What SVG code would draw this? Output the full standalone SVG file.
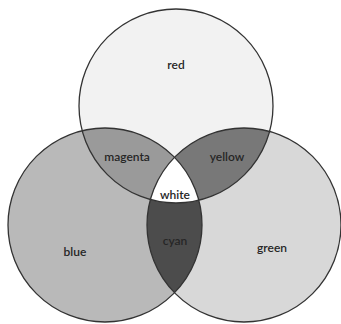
<svg xmlns="http://www.w3.org/2000/svg" width="341" height="324" viewBox="0 0 341 324">
  <style>
    .lbl { font-family: "Lato", "Open Sans", "DejaVu Sans", sans-serif; font-size: 12px; font-weight: 600; fill: #262626; text-anchor: middle; }
    .ring { fill: none; stroke: #333333; stroke-width: 1.3; }
  </style>
  <defs>
    <clipPath id="clipRed"><circle cx="176" cy="106" r="97"/></clipPath>
    <clipPath id="clipBlue"><circle cx="105" cy="225" r="97"/></clipPath>
    <clipPath id="clipGreen"><circle cx="244" cy="225" r="97"/></clipPath>
  </defs>
  <rect width="341" height="324" fill="#ffffff"/>
  <g id="blue">
    <circle cx="105" cy="225" r="97" fill="#b9b9b9"/>
  </g>
  <g id="green">
    <circle cx="244" cy="225" r="97" fill="#d8d8d8"/>
  </g>
  <g id="red">
    <circle cx="176" cy="106" r="97" fill="#f2f2f2"/>
  </g>
  <g id="magenta" clip-path="url(#clipBlue)">
    <circle cx="176" cy="106" r="97" fill="#9a9a9a"/>
  </g>
  <g id="yellow" clip-path="url(#clipGreen)">
    <circle cx="176" cy="106" r="97" fill="#787878"/>
  </g>
  <g id="cyan" clip-path="url(#clipGreen)">
    <circle cx="105" cy="225" r="97" fill="#4c4c4c"/>
  </g>
  <g id="white" clip-path="url(#clipGreen)">
    <g clip-path="url(#clipBlue)">
      <circle cx="176" cy="106" r="97" fill="#ffffff"/>
    </g>
  </g>
  <g id="outlines">
    <circle class="ring" cx="176" cy="106" r="97"/>
    <circle class="ring" cx="105" cy="225" r="97"/>
    <circle class="ring" cx="244" cy="225" r="97"/>
  </g>
  <g id="labels">
    <text class="lbl" x="176" y="69">red</text>
    <text class="lbl" x="127" y="161">magenta</text>
    <text class="lbl" x="227" y="161">yellow</text>
    <text class="lbl" x="175" y="199">white</text>
    <text class="lbl" x="175" y="245">cyan</text>
    <text class="lbl" x="75" y="256">blue</text>
    <text class="lbl" x="272" y="252">green</text>
  </g>
</svg>
